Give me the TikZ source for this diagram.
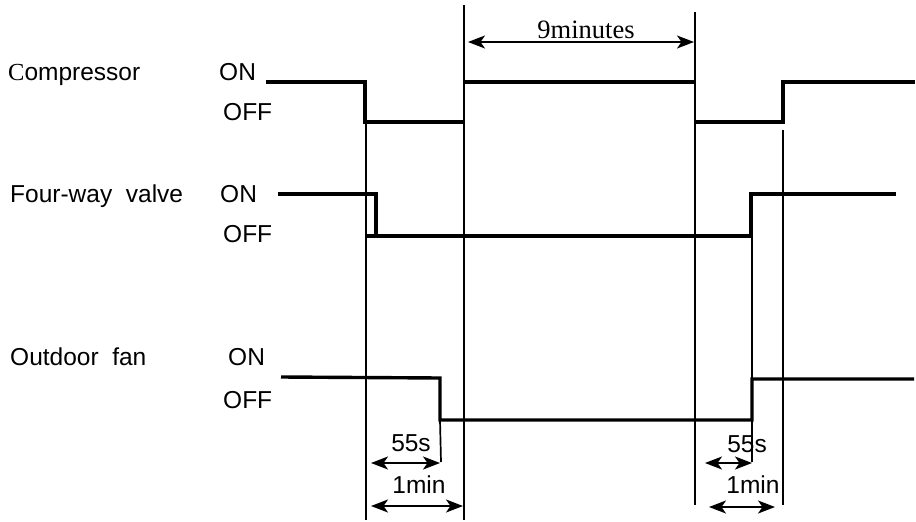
\documentclass[tikz,border=0pt]{standalone}
\usepackage{fontspec}
\setmainfont{Liberation Sans}
\newfontfamily\timesfont{Liberation Serif}
\usetikzlibrary{arrows.meta}

\begin{document}
\begin{tikzpicture}[x=1pt, y=-1pt,
	every node/.style={inner sep=0pt, anchor=base west, font=\fontsize{24.5}{28}\selectfont},
	>={Stealth[length=17pt, width=13pt, inset=4.5pt]},
	wave/.style={line width=3.4pt},
	guide/.style={line width=1.7pt},
	span/.style={<->, line width=1.9pt}]
	\useasboundingbox (0,0) rectangle (916,522);
	\draw[guide] (366,122) -- (366,520);
	\draw[guide] (464,5) -- (464,520);
	\draw[guide] (695,12) -- (695,505);
	\draw[guide] (783,130) -- (783,505);
	\draw[guide] (752,236) -- (752,380) (752,420) -- (752,462);
	\draw[guide] (440,420) -- (441,462);
	\draw[wave] (266,82) -| (365,122) -- (464,122);
	\draw[wave] (464,82) -- (695,82);
	\draw[wave] (695,122) -| (783,82) -- (915,82);
	\draw[wave] (278,194) -| (376,236);
	\draw[wave] (367,236) -| (751,194) -- (896,194);
	\draw[wave] (281,377) -- (440,378) -- (440,420) -- (752,420) |- (914,379);
	\node (comp) at (8,80) {{\timesfont C}ompressor};
	\node (comp-on) at (219,80) {ON};
	\node (comp-off) at (223,120) {OFF};
	\node (valve) at (10,202) {Four-way\ \ valve};
	\node (valve-on) at (220,202) {ON};
	\node (valve-off) at (223,242) {OFF};
	\node (fan) at (10,365) {Outdoor\ \ fan};
	\node (fan-on) at (228,365) {ON};
	\node (fan-off) at (223,408) {OFF};
	\coordinate (nine-a) at (468,42);
	\coordinate (nine-b) at (694,42);
	\draw[span] (nine-a) -- (nine-b);
	\node[anchor=base, font=\fontsize{26.5}{30}\timesfont] (nine) at (586,38) {9minutes};
	\coordinate (lfan-a) at (371,463);
	\coordinate (lfan-b) at (440,463);
	\draw[span] (lfan-a) -- (lfan-b);
	\node[anchor=base] (lfan) at (411,451) {55s};
	\coordinate (lcomp-a) at (371,506);
	\coordinate (lcomp-b) at (463,506);
	\draw[span] (lcomp-a) -- (lcomp-b);
	\node[anchor=base] (lcomp) at (419,493) {1min};
	\coordinate (rfan-a) at (705,463);
	\coordinate (rfan-b) at (752,463);
	\draw[span] (rfan-a) -- (rfan-b);
	\node[anchor=base] (rfan) at (747,452) {55s};
	\coordinate (rcomp-a) at (709,507);
	\coordinate (rcomp-b) at (775,507);
	\draw[span] (rcomp-a) -- (rcomp-b);
	\node[anchor=base] (rcomp) at (753,493) {1min};
\end{tikzpicture}
\end{document}
